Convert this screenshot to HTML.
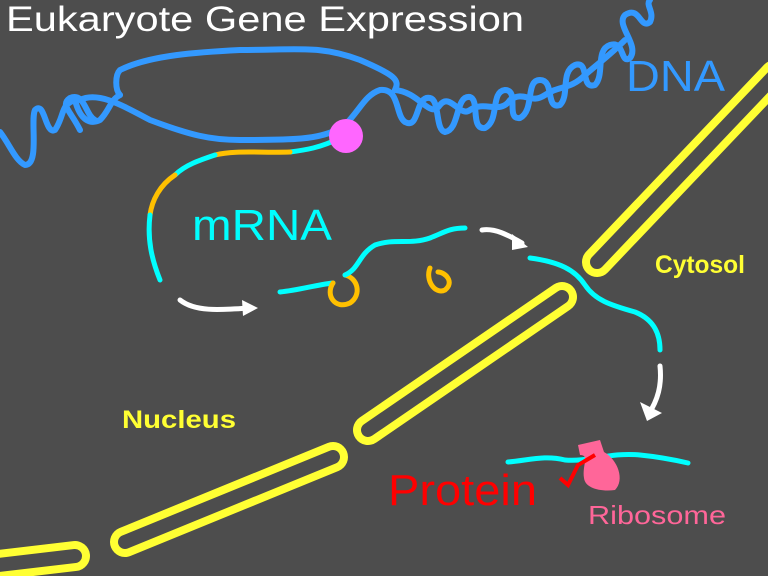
<!DOCTYPE html>
<html><head><style>body{margin:0;background:#4d4d4d}svg{display:block}</style></head><body>
<svg width="768" height="576" viewBox="0 0 768 576" xmlns="http://www.w3.org/2000/svg" font-family="Liberation Sans, sans-serif">
<rect width="768" height="576" fill="#4d4d4d"/>
<g stroke-linecap="round" fill="none">
<g stroke="#ffff33" stroke-width="30">
<line x1="597" y1="262" x2="775" y2="75"/>
<line x1="368" y1="430" x2="562" y2="297"/>
<line x1="125" y1="542" x2="333" y2="457"/>
<line x1="-10" y1="566" x2="75" y2="556"/>
</g>
<g stroke="#4d4d4d" stroke-width="14">
<line x1="597" y1="262" x2="775" y2="75"/>
<line x1="368" y1="430" x2="562" y2="297"/>
<line x1="125" y1="542" x2="333" y2="457"/>
<line x1="-10" y1="566" x2="75" y2="556"/>
</g>
<g stroke="#3399ff" stroke-width="6" stroke-linejoin="round">
<path d="M0,132 C10,145 15,160 25,165 C40,165 30,120 35,110 C45,100 45,135 55,130 C65,115 60,105 75,100 C80,120 90,125 100,120 C110,110 110,100 120,95"/>
<path d="M80,130 C70,110 60,105 70,98 C85,92 85,115 95,120"/>
<path d="M120,95 C115,90 115,75 120,70 C150,55 200,52 240,50 C300,50 320,45 360,60 C395,75 400,80 395,90"/>
<path d="M80,100 C100,90 130,110 150,120 C190,135 210,140 240,140 C290,140 320,140 340,128"/>
<path d="M345,125 C360,110 365,95 380,90 C400,88 395,115 405,122 C420,130 415,95 430,98 C440,100 435,130 445,132 C460,130 455,95 470,97 C480,100 470,130 485,128 C500,120 490,92 505,90 C520,90 505,120 520,118 C535,110 525,80 540,80 C555,80 545,110 560,105 C570,95 560,72 575,65 C590,60 580,90 595,85 C605,75 595,50 610,45 C625,40 620,65 630,58 C640,45 615,25 625,15 C640,5 640,30 650,22 C655,12 645,5 650,0"/>
<path d="M395,90 C420,92 430,120 440,105 C450,92 460,118 470,110 C485,100 500,115 510,100 C525,90 530,105 545,95 C560,85 570,90 585,75 C600,62 610,55 625,40"/>
</g>
<g stroke-width="5">
<path d="M340,138 C320,148 305,150 290,152" stroke="#00ffff"/>
<path d="M290,152 C260,153 235,150 215,155" stroke="#ffc000"/>
<path d="M215,155 C200,160 185,165 175,175" stroke="#00ffff"/>
<path d="M175,175 C160,185 152,200 150,215" stroke="#ffc000"/>
<path d="M150,215 C147,240 152,260 160,280" stroke="#00ffff"/>
<path d="M280,292 C300,290 315,285 333,283" stroke="#00ffff"/>
<path d="M333,283 C325,295 335,310 350,303 C362,295 358,278 345,275" stroke="#ffc000"/>
<path d="M345,275 C360,268 358,255 375,245 C395,238 410,245 430,238 C445,232 450,228 465,228" stroke="#00ffff"/>
<path d="M430,268 C425,280 435,295 445,290 C455,282 445,272 438,272" stroke="#ffc000"/>
<path d="M530,258 C560,262 575,270 585,285 C595,300 610,305 635,312 C655,320 660,335 660,350" stroke="#00ffff"/>
<path d="M508,462 C530,460 545,455 565,460 C590,462 610,452 640,455 C660,457 675,460 688,463" stroke="#00ffff"/>
</g>
<g stroke="#ffffff" stroke-width="5">
<path d="M180,300 C195,312 220,310 250,308"/>
<path d="M482,230 C495,228 508,235 522,243"/>
<path d="M660,366 C662,385 658,400 648,415"/>
</g>
</g>
<polygon points="242,300 258,308 243,316" fill="#fff"/>
<polygon points="512,234 528,247 512,250" fill="#fff"/>
<polygon points="640,402 662,413 647,421" fill="#fff"/>
<ellipse cx="346" cy="136" rx="17" ry="17" fill="#ff66ff"/>
<path d="M578,445 L600,440 L604,452 C618,460 625,480 615,490 C600,492 585,488 584,478 C582,465 590,455 580,455 Z" fill="#ff6699"/>
<path d="M560,478 L568,485 L578,465 L595,455" stroke="#ff0000" stroke-width="4" fill="none"/>
<text x="6" y="31" fill="#fff" font-size="35" textLength="518" lengthAdjust="spacingAndGlyphs">Eukaryote Gene Expression</text>
<text x="626" y="91" fill="#3399ff" font-size="44" textLength="99" lengthAdjust="spacingAndGlyphs">DNA</text>
<text x="192" y="240" fill="#00ffff" font-size="44" textLength="140" lengthAdjust="spacingAndGlyphs">mRNA</text>
<text x="655" y="273" fill="#ffff33" font-size="25" font-weight="bold" textLength="90" lengthAdjust="spacingAndGlyphs">Cytosol</text>
<text x="122" y="428" fill="#ffff33" font-size="25" font-weight="bold" textLength="114" lengthAdjust="spacingAndGlyphs">Nucleus</text>
<text x="388" y="505" fill="#ff0000" font-size="44" textLength="149" lengthAdjust="spacingAndGlyphs">Protein</text>
<text x="588" y="524" fill="#ff6699" font-size="26" textLength="138" lengthAdjust="spacingAndGlyphs">Ribosome</text>
</svg>
</body></html>
